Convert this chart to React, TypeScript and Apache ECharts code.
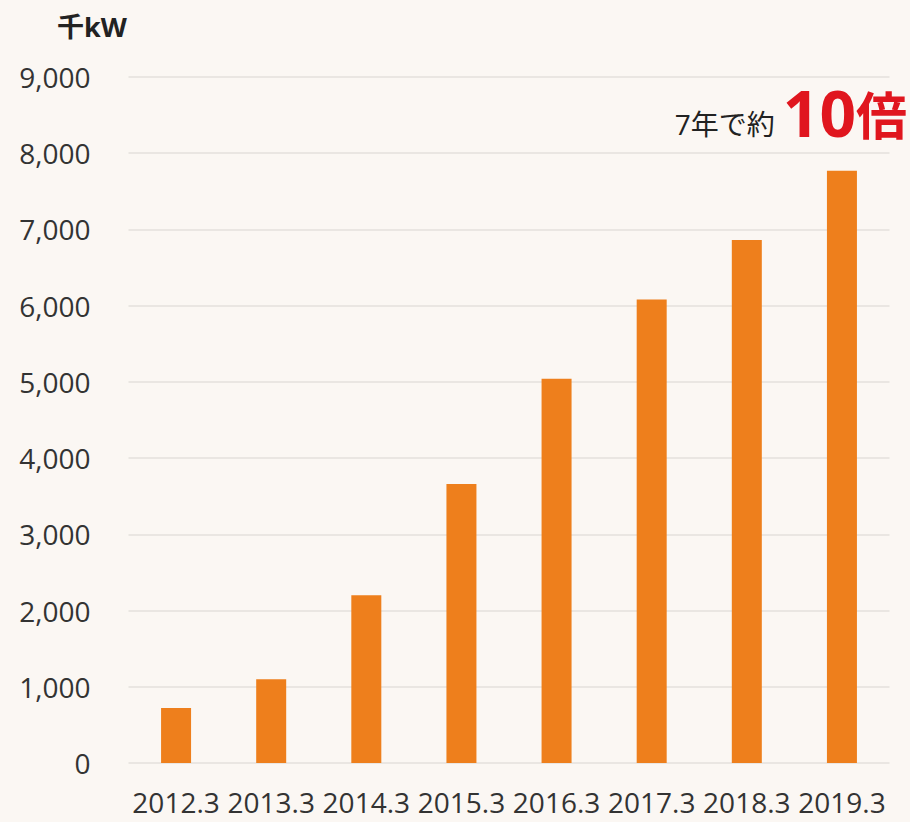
import React, { useEffect, useRef } from "react";
import * as echarts from "echarts";

const categories = ["2012.3", "2013.3", "2014.3", "2015.3", "2016.3", "2017.3", "2018.3", "2019.3"];
const capacity = [720, 1100, 2200, 3660, 5040, 6080, 6860, 7770];
const unitLabel = "千kW";
const noteText = "7年で約";
const noteBig = "10";
const noteSuffix = "倍";

const FONT = "'Open Sans', 'Noto Sans CJK JP', sans-serif";

export default function App() {
  const ref = useRef<HTMLDivElement>(null);
  useEffect(() => {
    if (!ref.current) return;
    const chart = echarts.init(ref.current, null, { renderer: "svg" });
    chart.setOption({
      animation: false,
      backgroundColor: "#fbf7f3",
      grid: { left: 128.5, right: 20.5, top: 77, bottom: 59 },
      xAxis: {
        type: "category",
        data: categories,
        boundaryGap: true,
        axisLine: { show: false },
        axisTick: { show: false },
        axisLabel: {
          color: "#333",
          fontSize: 28,
          fontFamily: FONT,
          margin: 24,
          lineHeight: 30,
          interval: 0,
        },
      },
      yAxis: {
        type: "value",
        min: 0,
        max: 9000,
        interval: 1000,
        axisLine: { show: false },
        axisTick: { show: false },
        splitLine: { lineStyle: { color: "#e4e1dc", width: 1.5 } },
        axisLabel: {
          color: "#333",
          fontSize: 28,
          fontFamily: FONT,
          margin: 38,
          formatter: (v: number) => v.toLocaleString("en-US"),
        },
      },
      series: [
        {
          type: "bar",
          data: capacity,
          barWidth: 30,
          itemStyle: { color: "#ee7f1c" },
        },
      ],
      graphic: [
        {
          type: "text",
          left: 57,
          top: 13,
          style: {
            text: unitLabel,
            fontSize: 27,
            fontWeight: "bold",
            fontFamily: FONT,
            fill: "#222",
          },
        },
        {
          type: "text",
          right: 3,
          top: 80,
          style: {
            text: `{a|${noteText}}{b|${noteBig}}{c|${noteSuffix}}`,
            rich: {
              a: { fontSize: 28, fontFamily: FONT, fill: "#222", color: "#222", verticalAlign: "bottom", padding: [0, 8, 6, 0] },
              b: { fontSize: 64, fontWeight: "bold", fontFamily: FONT, color: "#e0161e", fill: "#e0161e", verticalAlign: "bottom" },
              c: { fontSize: 51, fontWeight: "bold", fontFamily: FONT, color: "#e0161e", fill: "#e0161e", verticalAlign: "bottom", padding: [0, 0, 4, 0] },
            },
          },
        },
      ],
    });
    return () => chart.dispose();
  }, []);
  return (
    <div
      ref={ref}
      style={{ position: "fixed", left: 0, top: 0, width: 910, height: 822 }}
    />
  );
}
